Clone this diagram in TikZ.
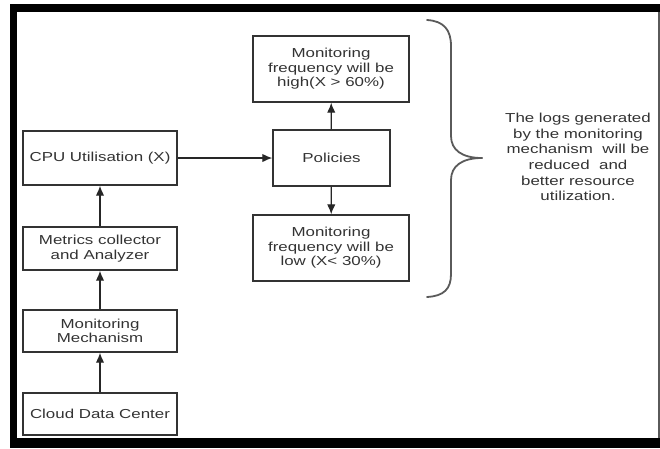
\documentclass[tikz,border=0pt]{standalone}
\usepackage{fontspec}
\setmainfont[FakeStretch=1.3]{Liberation Sans}
\usetikzlibrary{arrows.meta}
\definecolor{ink}{HTML}{333333}
\definecolor{edge}{HTML}{5A5A5A}
\begin{document}
\begin{tikzpicture}[x=1pt,y=-1pt,
  box/.style 2 args={draw=ink, line width=1.4pt, minimum width=#1pt, minimum height=#2pt,
    inner sep=0pt, align=center, text=ink, font=\fontsize{13}{14.5}\selectfont},
  arr/.style={draw=black!85, line width=1.3pt, -{Latex[length=10pt,width=8.5pt]}},
  brace/.style={draw=edge, line width=1.8pt, line cap=round}]
\useasboundingbox (0,0) rectangle (660,448);
% frame
\fill[black] (10,4) rectangle (17,448);
\fill[black] (10,4) rectangle (660,12);
\fill[black] (10,438) rectangle (660,448);
\draw[edge, line width=1.2pt] (659,12) -- (659,438);
% boxes
\node[box={154}{54}] (cpu) at (100,158) {CPU Utilisation (X)};
\node[box={154}{43}] (met) at (100,248.5) {Metrics collector\\and Analyzer};
\node[box={154}{42}] (mon) at (100,331) {Monitoring\\Mechanism};
\node[box={154}{42}] (cdc) at (100,414) {Cloud Data Center};
\node[box={156}{66}] (high) at (331,69) {Monitoring\\frequency will be\\high(X {>} 60\%)};
\node[box={117}{56}] (pol) at (331.5,158) {Policies};
\node[box={156}{66}] (low) at (331,248) {Monitoring\\frequency will be\\low (X{<} 30\%)};
% connectors
\draw[arr] (cdc) -- (mon);
\draw[arr] (mon) -- (met);
\draw[arr] (met) -- (cpu);
\draw[arr] (cpu.east) -- (pol.west);
\draw[arr] (pol) -- (high);
\draw[arr] (pol) -- (low);
% brace
\draw[brace] (427,20) .. controls (444,21) and (451,30) .. (451,46) -- (451,136)
  .. controls (451,150) and (462,158) .. (482,158);
\draw[brace] (482,158) .. controls (462,158) and (451,166) .. (451,180) -- (451,274)
  .. controls (451,289) and (444,296) .. (427,297);
% note
\node[align=center, text=ink, font=\fontsize{13}{15.6}\selectfont] (note) at (578,157)
  {The logs generated\\by the monitoring\\mechanism\ \ will be\\reduced\ \ and\\better resource\\utilization.};
\end{tikzpicture}
\end{document}
